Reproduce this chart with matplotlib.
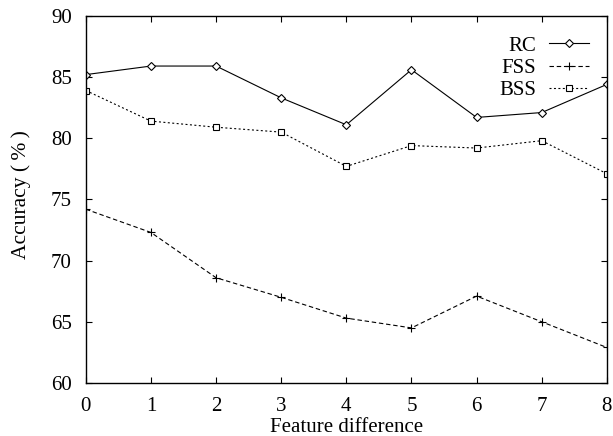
import matplotlib
matplotlib.use("Agg")
import matplotlib.pyplot as plt

plt.rcParams['font.family'] = ['Liberation Serif', 'DejaVu Serif']

feature_diff = [0, 1, 2, 3, 4, 5, 6, 7, 8]
rc = [85.2, 85.9, 85.9, 83.3, 81.1, 85.6, 81.7, 82.1, 84.4]
fss = [74.2, 72.3, 68.6, 67.0, 65.3, 64.5, 67.1, 65.0, 62.9]
bss = [83.9, 81.4, 80.9, 80.5, 77.7, 79.4, 79.2, 79.8, 77.1]

fig = plt.figure(figsize=(6.13, 4.36), dpi=100)
ax = fig.add_axes([0.140, 0.1216, 0.850, 0.842])

ax.plot(feature_diff, rc, color='black', lw=0.8, ls='-', marker='D', ms=4,
        mfc='white', mec='black', mew=0.8, label='RC')
ax.plot(feature_diff, fss, color='black', lw=0.8, ls=(0, (4, 2.5)), marker='+', ms=6,
        mec='black', mew=0.8, label='FSS')
ax.plot(feature_diff, bss, color='black', lw=0.8, ls=(0, (1.8, 2.2)), marker='s', ms=5,
        mfc='white', mec='black', mew=0.8, label='BSS')

ax.set_xlim(0, 8)
ax.set_ylim(60, 90)
ax.set_xticks(range(0, 9))
ax.set_yticks(range(60, 91, 5))
ax.tick_params(direction='in', top=True, right=True, length=4.5, width=0.8,
               labelsize=15, pad=10)
for s in ax.spines.values():
    s.set_linewidth(1.0)

ax.set_xlabel('Feature difference', fontsize=15)
ax.set_ylabel('Accuracy (\u2009%\u2009)', fontsize=15.5)
ax.xaxis.set_label_coords(0.5, -0.095)
ax.yaxis.set_label_coords(-0.105, 0.514)

ax.legend(loc='upper right', frameon=False, markerfirst=False, fontsize=15,
          handlelength=1.9, handletextpad=0.62, labelspacing=0.12,
          borderpad=0, borderaxespad=0,
          bbox_to_anchor=(589 / 613, 0.917), bbox_transform=fig.transFigure,
          alignment='right')

fig.savefig('out.png', dpi=100)
